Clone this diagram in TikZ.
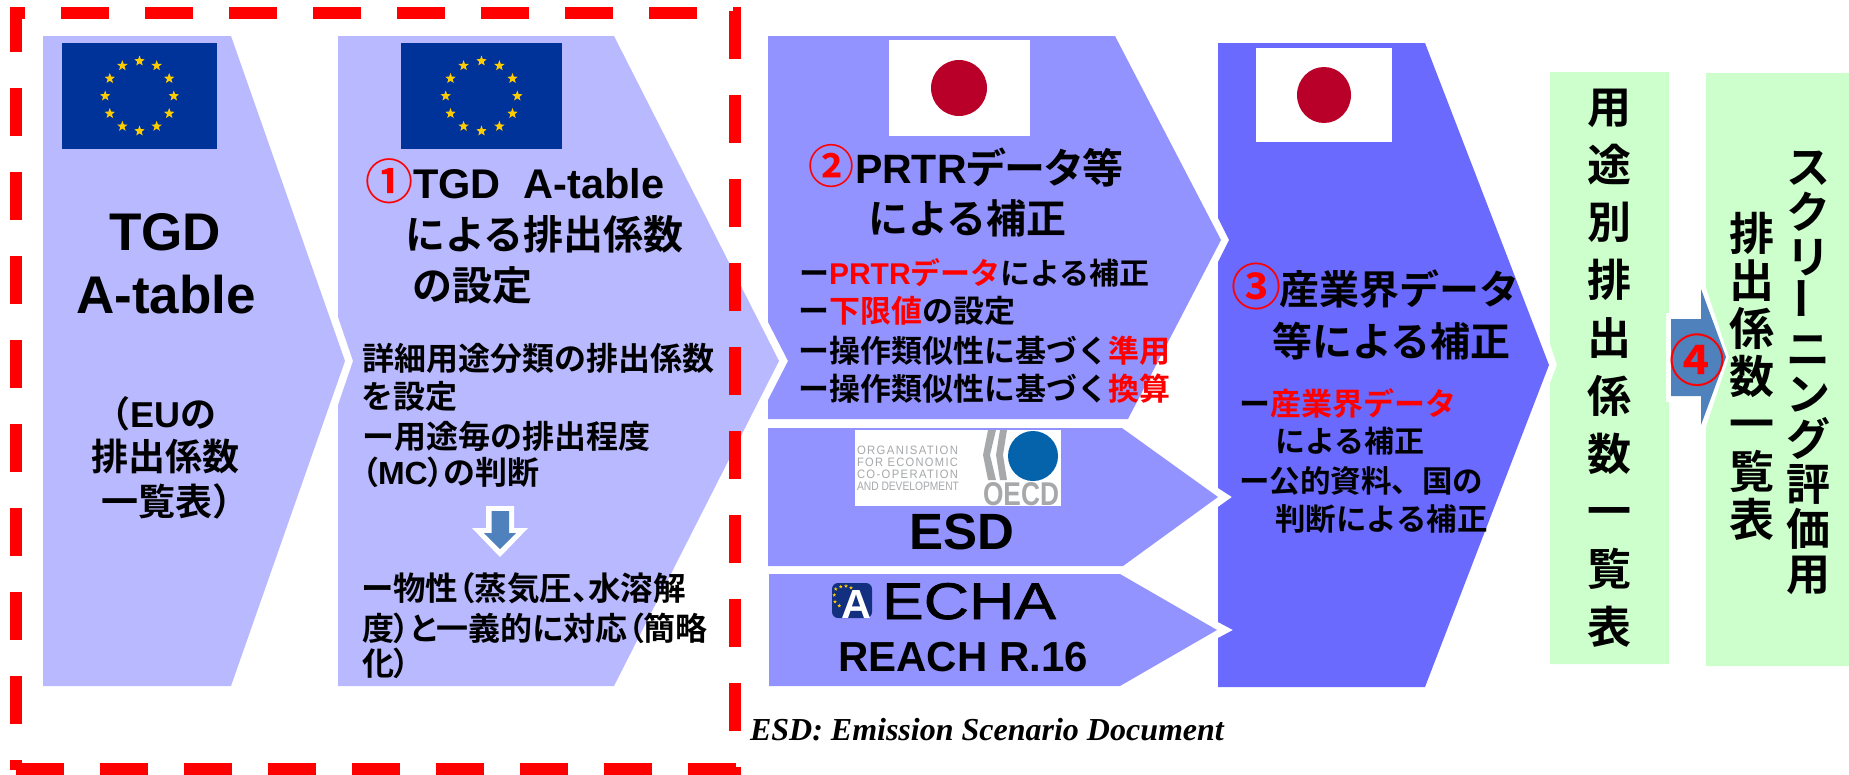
\documentclass[tikz,border=0pt]{standalone}
\usepackage{fontspec}
\usepackage{graphicx}
\usetikzlibrary{shapes.geometric}
\setmainfont{Liberation Sans}
\newfontfamily\jpf{Noto Sans CJK JP}[BoldFont={Noto Sans CJK JP Bold}]
\newfontfamily\jpp{Noto Sans CJK JP}[BoldFont={Noto Sans CJK JP Bold},RawFeature={+palt}]
\newfontfamily\timesf{Liberation Serif}
\newfontfamily\spaced{Liberation Sans}[LetterSpace=12]
\newfontfamily\echaf{Liberation Sans}[FakeBold=1.2]
\newcommand\Jp[1]{{\jpf #1}}
\newcommand\Pp[1]{{\jpp #1}}
\newcommand\Rd[1]{\textcolor{red}{#1}}
\definecolor{lilac}{HTML}{B9B9FF}
\definecolor{mid}{HTML}{9393FF}
\definecolor{deep}{HTML}{6A6AFF}
\definecolor{mint}{HTML}{CCFFCC}
\definecolor{euBlue}{HTML}{003399}
\definecolor{euGold}{HTML}{FFCC00}
\definecolor{jpRed}{HTML}{B80028}
\definecolor{steel}{HTML}{4F81BD}
\definecolor{oecdBlue}{HTML}{0563AC}
\definecolor{oecdGray}{HTML}{A6A8AA}
\definecolor{echaBlue}{HTML}{12307F}
\tikzset{
  x=1pt,y=-1pt,
  txt/.style={inner sep=0pt,outer sep=0pt,anchor=base west,font=\bfseries,text=black},
  ctr/.style={inner sep=0pt,outer sep=0pt,anchor=base,font=\bfseries,text=black},
  s52/.style={font=\fontsize{53}{60}\bfseries},
  dashline/.style={draw=red,line width=12pt,dash pattern=on 48pt off 36pt},
  eustar/.style={star,star points=5,star point ratio=2.4,fill=euGold,inner sep=0pt,minimum size=11pt,draw=none},
  echastar/.style={star,star points=5,star point ratio=2.4,fill=euGold,inner sep=0pt,minimum size=4pt,draw=none},
  stack/.style={inner sep=0pt,outer sep=0pt,align=center,anchor=center,text=black},
  oecdline/.style={inner sep=0pt,outer sep=0pt,anchor=base west,font=\spaced,text=oecdGray},
}
\newcommand\euflag[5]{%
  \fill[euBlue] (#1,#2) rectangle (#3,#4);
  \foreach \a in {0,30,...,330}
    \node[eustar] at ({(#1+#3)/2+#5*cos(\a)},{(#2+#4)/2+35*sin(\a)}) {};
}
\begin{document}
\begin{tikzpicture}
\useasboundingbox (0,0) rectangle (1849,774);
% chevrons
\fill[lilac] (43,36) -- (231,36) -- (345,361) -- (231,686) -- (43,686) -- cycle;
\fill[lilac] (338,36) -- (614,36) -- (779,361) -- (614,686) -- (338,686) -- (338,405) -- (353,361) -- (338,317) -- cycle;
\fill[mid] (768,36) -- (1115,36) -- (1221,240) -- (1128,419) -- (768,419) -- (768,400) -- (788,361) -- (768,322) -- cycle;
\fill[mid] (768,428) -- (1122,428) -- (1218,497) -- (1123,566) -- (768,566) -- cycle;
\fill[mid] (769,574) -- (1120,574) -- (1217,630) -- (1120,686) -- (769,686) -- cycle;
\fill[deep] (1218,43) -- (1425,43) -- (1549,365) -- (1425,687) -- (1218,687) -- (1218,638) -- (1233,630) -- (1218,622) -- (1218,507) -- (1232,497) -- (1218,488) -- (1218,262) -- (1229,240) -- (1218,218) -- cycle;
\fill[mint] (1550,72) -- (1669,72) -- (1669,313) -- (1666,313) -- (1666,402) -- (1669,402) -- (1669,664) -- (1550,664) -- (1550,383) -- (1557,365) -- (1550,344) -- cycle;
\fill[mint] (1706,73) -- (1849,73) -- (1849,666) -- (1706,666) -- (1706,427) -- (1729,357) -- (1706,288) -- cycle;
% arrow 4
\fill[steel] (1671,319) -- (1701,319) -- (1701,289) -- (1726,357) -- (1701,425) -- (1701,396) -- (1671,396) -- cycle;
% down arrow
\fill[white] (486,506) -- (514,506) -- (514,528) -- (528,528) -- (500,557) -- (472,528) -- (486,528) -- cycle;
\fill[steel] (491.5,511) -- (509,511) -- (509,533) -- (516,533) -- (500,549) -- (484,533) -- (491.5,533) -- cycle;
% flags
\euflag{62}{43}{217}{149}{34.3}
\euflag{401}{43}{562}{149}{35.8}
\fill[white] (889,40) rectangle (1030,136);
\fill[jpRed] (959,88) circle (28);
\fill[white] (1256,48) rectangle (1392,142);
\fill[jpRed] (1324,95) ellipse (27 and 28);
% OECD logo
\fill[white] (855,430) rectangle (1061,506);
\node[oecdline] (oecd1) at (857,454) {\resizebox{101pt}{8.5pt}{ORGANISATION}};
\node[oecdline] (oecd2) at (857,466) {\resizebox{101pt}{8.5pt}{FOR ECONOMIC}};
\node[oecdline] (oecd3) at (857,478) {\resizebox{101pt}{8.5pt}{CO-OPERATION}};
\node[txt,font=\normalfont,text=oecdGray] (oecd4) at (857,490) {\resizebox{102pt}{8.5pt}{AND DEVELOPMENT}};
\fill[oecdGray] (988,430) -- (996,430) -- (990,455) -- (996,480) -- (988,480) -- (983,455) -- cycle;
\fill[oecdGray] (1000,430) -- (1007,430) -- (1003,455) -- (1007,480) -- (1000,480) -- (996,455) -- cycle;
\fill[oecdBlue] (1033,456) circle (25);
\node[txt,text=oecdGray] (oecd5) at (983,505) {\resizebox{76pt}{23pt}{OECD}};
% ECHA logo
\fill[echaBlue,rounded corners=6pt] (832,583) rectangle (872,618);
\foreach \sx/\sy in {835.7/589,840.7/586.7,846/586,851/587.7,834.3/595,835/601.7,839.3/605.7}
  \node[echastar] at (\sx,\sy) {};
\node[inner sep=0pt,anchor=center,font=\bfseries,text=white] (echaA) at (856.5,604) {\resizebox{30pt}{28pt}{A}};
\node[txt,font=\echaf] (echa) at (882,619) {\resizebox{174pt}{36pt}{ECHA}};
% texts
\node[ctr,s52] (a1) at (165,250) {TGD};
\node[ctr,s52] (a2) at (166,313) {A-table};
\node[txt,font=\fontsize{36}{40}\bfseries] (a3) at (94,427) {\Jp{（}EU\Jp{の}};
\node[ctr,font=\fontsize{37}{40}\bfseries] (a4) at (165,470) {\Jp{排出係数}};
\node[txt,font=\fontsize{37}{40}\bfseries] (a5) at (101,515) {\Jp{一覧表）}};

\node[txt,font=\fontsize{48}{50}\bfseries,text=red] (b0) at (365,199) {\Jp{①}};
\node[txt,font=\fontsize{41.5}{50}\bfseries] (b1) at (413,198) {TGD\ \ A-table};
\node[txt,font=\fontsize{40}{50}\bfseries] (b2) at (405,249) {\Jp{による排出係数}};
\node[txt,font=\fontsize{40}{50}\bfseries] (b3) at (412,300) {\Jp{の設定}};
\node[txt,font=\fontsize{32}{40}\bfseries] (b4) at (362,370) {\Jp{詳細用途分類の排出係数}};
\node[txt,font=\fontsize{32}{40}\bfseries] (b5) at (361,408) {\Jp{を設定}};
\node[txt,font=\fontsize{32}{40}\bfseries] (b6) at (362,448) {\Jp{ー用途毎の排出程度}};
\node[txt,font=\fontsize{32}{40}\bfseries] (b7) at (362,484) {\Pp{（}MC\Pp{）の判断}};
\node[txt,font=\fontsize{32.5}{40}\bfseries] (b8) at (362,600) {\Pp{ー物性（蒸気圧、水溶解}};
\node[txt,font=\fontsize{32}{40}\bfseries] (b9) at (362,640) {\Pp{度）と一義的に対応（簡略}};
\node[txt,font=\fontsize{32}{40}\bfseries] (b10) at (362,675) {\Pp{化）}};

\node[txt,font=\fontsize{46}{50}\bfseries,text=red] (c0) at (808,183) {\Jp{②}};
\node[txt,font=\fontsize{41}{50}\bfseries] (c1) at (855,183) {PRTR\Pp{データ等}};
\node[txt,font=\fontsize{40}{50}\bfseries] (c2) at (868,233) {\Jp{による補正}};
\node[txt,font=\fontsize{30}{36}\bfseries] (c3) at (799,284) {\Jp{ー}\Rd{PRTR\Jp{データ}}\Jp{による補正}};
\node[txt,font=\fontsize{31}{36}\bfseries] (c4) at (798,322) {\Jp{ー\Rd{下限値}の設定}};
\node[txt,font=\fontsize{31}{36}\bfseries] (c5) at (798,362) {\Jp{ー操作類似性に基づく\Rd{準用}}};
\node[txt,font=\fontsize{31}{36}\bfseries] (c6) at (798,400) {\Jp{ー操作類似性に基づく\Rd{換算}}};
\node[ctr,font=\fontsize{51}{60}\bfseries] (esd) at (962,549) {ESD};
\node[ctr,font=\fontsize{42}{50}\bfseries] (reach) at (963,671) {REACH R.16};
\node[txt,font=\timesf\fontsize{32}{34}\bfseries\itshape] (note) at (750,740) {ESD: Emission Scenario Document};

\node[txt,font=\fontsize{50}{50}\bfseries,text=red] (d0) at (1231,305) {\Jp{③}};
\node[txt,font=\fontsize{40}{50}\bfseries] (d1) at (1279,304) {\Jp{産業界データ}};
\node[txt,font=\fontsize{40}{50}\bfseries] (d2) at (1272,356) {\Jp{等による補正}};
\node[txt,font=\fontsize{31}{36}\bfseries] (d3) at (1239,415) {\Jp{ー\Rd{産業界データ}}};
\node[txt,font=\fontsize{30}{36}\bfseries] (d4) at (1275,452) {\Jp{による補正}};
\node[txt,font=\fontsize{30.5}{36}\bfseries] (d5) at (1239,492) {\Jp{ー公的資料、国の}};
\node[txt,font=\fontsize{30.5}{36}\bfseries] (d6) at (1275,530) {\Jp{判断による補正}};

\node[stack,font=\fontsize{44}{57.8}\bfseries\jpf] (g1) at (1609,368) {用\\途\\別\\排\\出\\係\\数\\一\\覧\\表};
\node[stack,font=\fontsize{45}{47.7}\bfseries\jpf] (h1) at (1751.5,376) {排\\出\\係\\数\\一\\覧\\表};
\node[stack,font=\fontsize{44}{45}\bfseries\jpf] (h2) at (1808,373) {ス\\ク\\リ\\\rotatebox{90}{ー}\\ニ\\ン\\グ\\評\\価\\用};
\node[inner sep=0pt,anchor=center,font=\fontsize{56}{60}\bfseries\jpf,text=red] (n4) at (1697.5,360) {④};
% red dashed frame
\draw[dashline,dash phase=33pt] (10,13) -- (741,13);
\draw[dashline,dash phase=3pt] (16,7) -- (16,770);
\draw[dashline] (735,11) -- (735,775);
\draw[dashline] (16,769) -- (741,769);
\end{tikzpicture}
\end{document}
